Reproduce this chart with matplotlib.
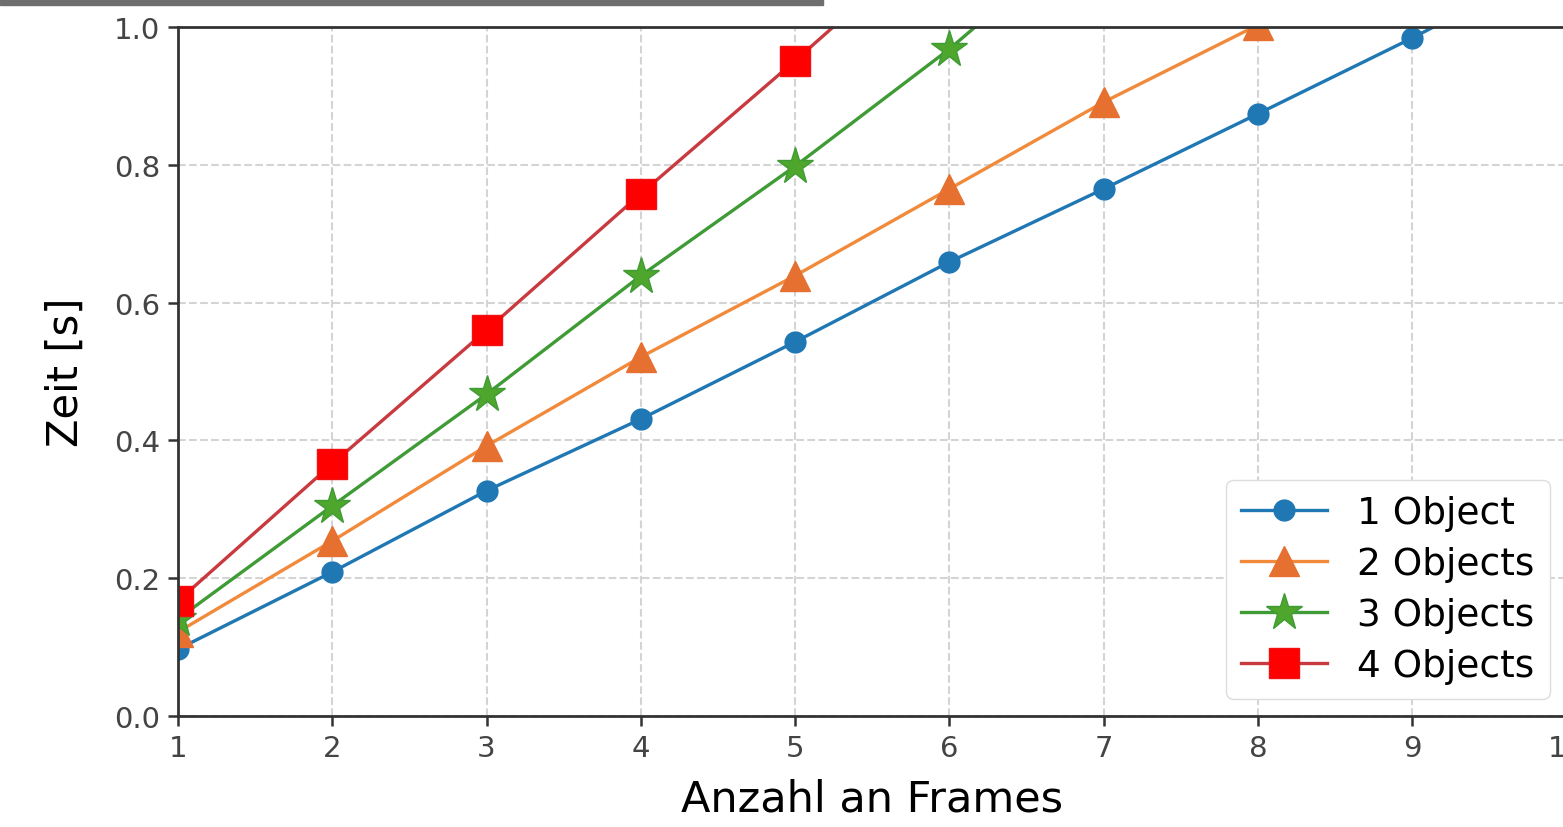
import numpy as np
import matplotlib.pyplot as plt
from matplotlib.patches import Rectangle

frames = [1, 2, 3, 4, 5, 6, 7, 8, 9, 10]
zeit_1 = [0.097, 0.209, 0.327, 0.431, 0.543, 0.659, 0.765, 0.874, 0.984, 1.10]
zeit_2 = [0.122, 0.254, 0.392, 0.521, 0.639, 0.765, 0.891, 1.003, 1.12, 1.24]
zeit_3 = [0.141, 0.305, 0.467, 0.639, 0.798, 0.968, 1.16, 1.35, 1.53, 1.72]
zeit_4 = [0.167, 0.366, 0.560, 0.758, 0.951, 1.15, 1.35, 1.55, 1.75, 1.95]
labels = ['1 Object', '2 Objects', '3 Objects', '4 Objects']

fig = plt.figure(figsize=(15.63, 8.28), dpi=100)
ax = fig.add_axes([178/1563, 111/828, 1388.5/1563, 689/828])

ax.plot(frames, zeit_1, color='#1f77b4', lw=2.4, marker='o', ms=15,
        label=labels[0])
ax.plot(frames, zeit_2, color='#f28a3c', lw=2.4, marker='^', ms=21,
        mfc='#e5702f', mec='#e5702f', label=labels[1])
ax.plot(frames, zeit_3, color='#3f9b35', lw=2.4, marker='*', ms=28,
        mfc='#4ea62d', mec='#3f9b35', label=labels[2])
ax.plot(frames, zeit_4, color='#c83a3f', lw=2.4, marker='s', ms=22,
        mfc='#ff0000', mec='#f01010', label=labels[3])

ax.set_xlim(1, 10)
ax.set_ylim(0, 1.0)
ax.set_xticks(frames)
ax.set_yticks([0.0, 0.2, 0.4, 0.6, 0.8, 1.0])
ax.grid(True, ls='--', color='#d4d4d4', lw=1.5)

for s in ax.spines.values():
    s.set_color('#333333')
    s.set_linewidth(2)
ax.tick_params(labelsize=21, length=7, width=1.8, color='#333333',
               labelcolor='#444444', pad=6)

ax.set_xlabel('Anzahl an Frames', fontsize=31, labelpad=11)
ax.set_ylabel('Zeit [s]', fontsize=30)
ax.yaxis.set_label_coords(-0.066, 0.5)

ax.legend(loc='lower right', bbox_to_anchor=(0.988, 0.025), borderaxespad=0,
          fontsize=27, handlelength=2.3, labelspacing=0.4, borderpad=0.4,
          handletextpad=0.8, edgecolor='#dddddd', framealpha=1)

# grey strip at the top left of the screenshot
fig.patches.append(Rectangle((0, 1 - 6/828), 823/1563, 6/828,
                             transform=fig.transFigure, color='#6e6e6e'))

fig.savefig('out.png', dpi=100)
